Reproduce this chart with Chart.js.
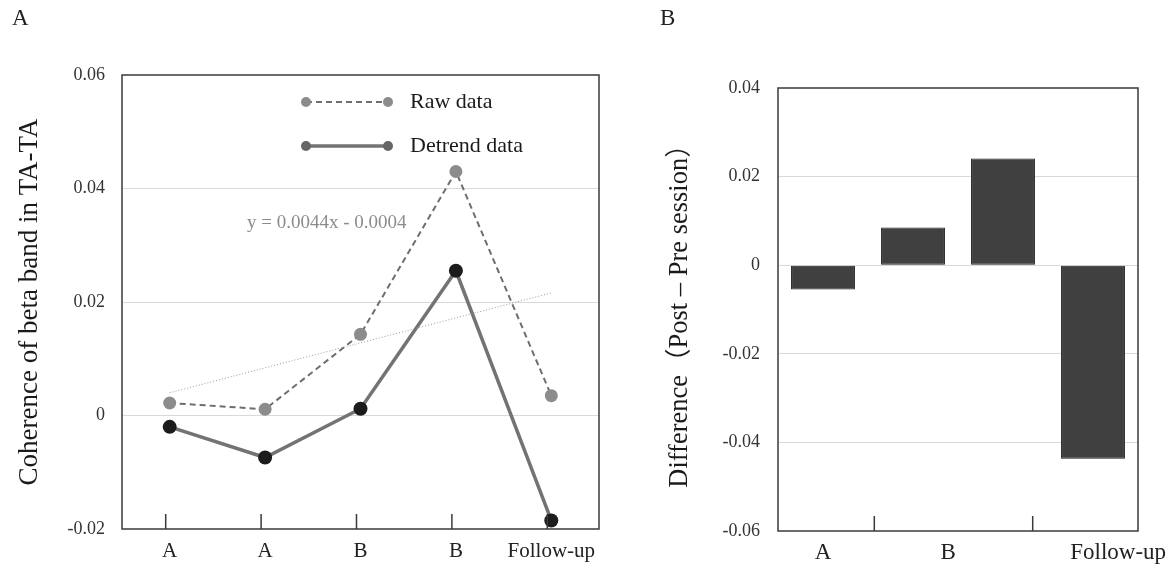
<!DOCTYPE html>
<html>
<head>
<meta charset="utf-8">
<script src="https://cdn.jsdelivr.net/npm/chart.js@4.4.1/dist/chart.umd.min.js"></script>
<style>
  body { margin: 0; background: #fff; }
  #wrap { position: relative; width: 1175px; height: 564px; overflow: hidden; font-family: 'Liberation Serif', serif; }
  canvas { position: absolute; top: 0; }
  #cA { left: 0; }
  #cB { left: 620px; }
  .panel { position: absolute; top: 5px; font-size: 23px; color: #222; }
</style>
</head>
<body>
<div id="wrap">
  <canvas id="cA" width="610" height="564"></canvas>
  <canvas id="cB" width="555" height="564"></canvas>
  <div class="panel" style="left:12px">A</div>
  <div class="panel" style="left:660px">B</div>
</div>
<script>
// panel A: coherence per session
const categoriesA = ['A', 'A', 'B', 'B', 'Follow-up'];
const rawData = [0.0022, 0.0011, 0.0143, 0.0430, 0.0035];
const detrendData = [-0.0020, -0.0074, 0.0012, 0.0255, -0.0185];
const trendData = [0.0040, 0.0084, 0.0128, 0.0172, 0.0216];
const trendLabel = 'y = 0.0044x - 0.0004';
const yTicksA = [-0.02, 0, 0.02, 0.04, 0.06];

// panel B: post - pre difference
const barCategories = ['A', 'B', 'B', 'Follow-up'];
const diffData = [-0.0055, 0.0085, 0.0241, -0.0437];
const groupLabels = ['A', 'B', 'Follow-up'];
const yTicksB = [-0.06, -0.04, -0.02, 0, 0.02, 0.04];

// where the group labels / separators sit on the bar index axis
const groupCenters = [0, 1.39, 3.28];
const groupSeps = [0.57, 2.33];

const SERIF = "'Liberation Serif', 'Times New Roman', serif";
const fmt = v => Math.abs(v) < 1e-9 ? '0' : v.toFixed(2);

const framePlugin = {
  id: 'frame',
  afterDraw(chart) {
    const { ctx, chartArea: a } = chart;
    ctx.save();
    ctx.strokeStyle = '#3a3a3a';
    ctx.lineWidth = 1.5;
    ctx.strokeRect(a.left, a.top, a.right - a.left, a.bottom - a.top);
    ctx.restore();
  }
};

function innerTicks(ctx, bottom, xs) {
  ctx.save();
  ctx.strokeStyle = '#3a3a3a';
  ctx.lineWidth = 1.5;
  xs.forEach(x => {
    ctx.beginPath();
    ctx.moveTo(x, bottom);
    ctx.lineTo(x, bottom - 15);
    ctx.stroke();
  });
  ctx.restore();
}

const extrasA = {
  id: 'extrasA',
  afterDraw(chart) {
    const { ctx, chartArea: a } = chart;
    const xs = chart.scales.x;
    innerTicks(ctx, a.bottom, categoriesA.map((_, i) => xs.getPixelForTick(i) - 4));

    // trendline equation
    ctx.save();
    ctx.font = '19px ' + SERIF;
    ctx.fillStyle = '#8c8c8c';
    ctx.textBaseline = 'middle';
    ctx.fillText(trendLabel, a.left + 125, a.top + 148);

    // legend
    const x0 = a.left + 184, x1 = x0 + 82;
    const items = [
      { ds: chart.data.datasets[1], y: a.top + 27, dot: '#8c8c8c' },
      { ds: chart.data.datasets[2], y: a.top + 71, dot: '#666666' }
    ];
    ctx.font = '22px ' + SERIF;
    items.forEach(it => {
      ctx.strokeStyle = it.ds.borderColor;
      ctx.lineWidth = it.ds.borderWidth;
      ctx.setLineDash(it.ds.borderDash || []);
      ctx.beginPath();
      ctx.moveTo(x0, it.y);
      ctx.lineTo(x1, it.y);
      ctx.stroke();
      ctx.setLineDash([]);
      ctx.fillStyle = it.dot;
      [x0, x1].forEach(x => {
        ctx.beginPath();
        ctx.arc(x, it.y, 5, 0, Math.PI * 2);
        ctx.fill();
      });
      ctx.fillStyle = '#1a1a1a';
      ctx.fillText(it.ds.label, x1 + 22, it.y);
    });
    ctx.restore();
  }
};

new Chart(document.getElementById('cA'), {
  type: 'line',
  data: {
    labels: categoriesA,
    datasets: [
      { label: 'Trend', data: trendData, borderColor: '#9a9a9a', borderWidth: 1,
        borderDash: [1, 2], pointRadius: 0, fill: false },
      { label: 'Raw data', data: rawData, borderColor: '#6e6e6e', borderWidth: 2,
        borderDash: [6, 4], pointRadius: 6.5, pointBackgroundColor: '#8c8c8c',
        pointBorderWidth: 0, fill: false },
      { label: 'Detrend data', data: detrendData, borderColor: '#737373', borderWidth: 3.5,
        pointRadius: 7, pointBackgroundColor: '#1c1c1c', pointBorderWidth: 0, fill: false }
    ]
  },
  options: {
    responsive: false,
    animation: false,
    layout: { padding: { top: 75, right: 11, left: 0, bottom: 0 } },
    plugins: { legend: { display: false }, tooltip: { enabled: false } },
    scales: {
      x: {
        offset: true,
        grid: { display: false },
        border: { display: false },
        ticks: { color: '#222', padding: 2, font: { family: SERIF, size: 21 } },
        afterFit: s => { s.height = 35; }
      },
      y: {
        min: -0.02, max: 0.06,
        afterBuildTicks: s => { s.ticks = yTicksA.map(v => ({ value: v })); },
        grid: {
          drawTicks: false,
          color: c => (c.tick && (c.tick.value === -0.02 || c.tick.value === 0.06)) ? 'rgba(0,0,0,0)' : '#d9d9d9'
        },
        border: { display: false },
        ticks: { color: '#333', padding: 17, font: { family: SERIF, size: 18 }, callback: v => fmt(v) },
        title: { display: true, text: 'Coherence of beta band in TA-TA', color: '#1a1a1a',
          font: { family: SERIF, size: 27 }, padding: { top: 14, bottom: 0 } },
        afterFit: s => { s.width = 122; }
      }
    }
  },
  plugins: [framePlugin, extrasA]
});

const extrasB = {
  id: 'extrasB',
  afterDraw(chart) {
    const { ctx, chartArea: a } = chart;
    const xg = chart.scales.xg;
    innerTicks(ctx, a.bottom, groupSeps.map(v => xg.getPixelForValue(v)));
  }
};

new Chart(document.getElementById('cB'), {
  type: 'bar',
  data: {
    labels: barCategories,
    datasets: [{
      label: 'Difference', data: diffData, backgroundColor: '#404040',
      borderColor: '#1e1e1e', borderWidth: 1, borderSkipped: false,
      barPercentage: 0.71, categoryPercentage: 1
    }]
  },
  options: {
    responsive: false,
    animation: false,
    layout: { padding: { top: 88, right: 37, left: 0, bottom: 0 } },
    plugins: { legend: { display: false }, tooltip: { enabled: false } },
    scales: {
      x: { display: false, offset: true },
      xg: {
        type: 'linear', position: 'bottom', min: -0.5, max: 3.5, offset: false,
        afterBuildTicks: s => { s.ticks = groupCenters.map(v => ({ value: v })); },
        grid: { display: false, offset: false },
        border: { display: false },
        ticks: { autoSkip: false, maxRotation: 0, color: '#222', padding: 0,
          font: { family: SERIF, size: 23 }, callback: (v, i) => groupLabels[i] },
        afterFit: s => { s.height = 33; }
      },
      y: {
        min: -0.06, max: 0.04,
        afterBuildTicks: s => { s.ticks = yTicksB.map(v => ({ value: v })); },
        grid: {
          drawTicks: false,
          color: c => (c.tick && (c.tick.value === -0.06 || c.tick.value === 0.04)) ? 'rgba(0,0,0,0)' : '#d9d9d9'
        },
        border: { display: false },
        ticks: { color: '#333', padding: 18, font: { family: SERIF, size: 18 }, callback: v => fmt(v) },
        title: { display: true, text: 'Difference（Post – Pre session）', color: '#1a1a1a',
          font: { family: "'Liberation Serif', 'Noto Sans CJK JP', serif", size: 26.5 },
          padding: { top: 44, bottom: 0 } },
        afterFit: s => { s.width = 158; }
      }
    }
  },
  plugins: [framePlugin, extrasB]
});
</script>
</body>
</html>
